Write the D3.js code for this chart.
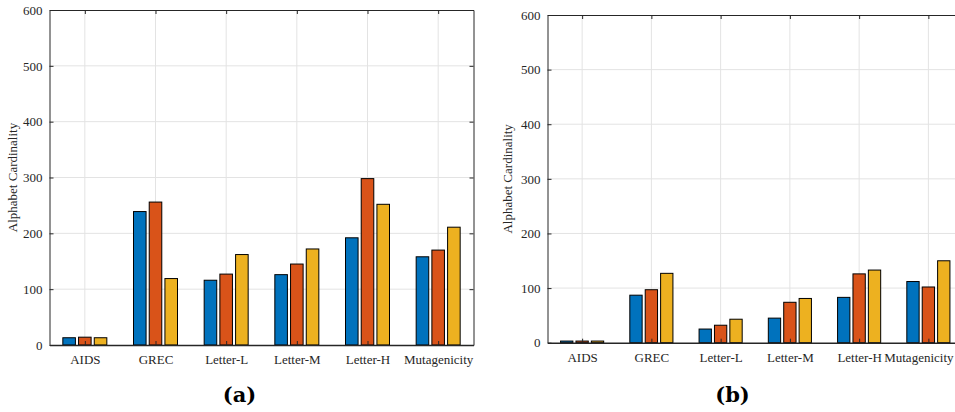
<!DOCTYPE html>
<html>
<head>
<meta charset="utf-8">
<script src="https://cdn.jsdelivr.net/npm/d3@7"></script>
<style>
  html, body { margin: 0; padding: 0; background: #fff; }
  svg { display: block; }
  svg text.serif { font-family: "Liberation Serif", "Times New Roman", Times, serif; }
</style>
</head>
<body>
<svg id="chart" width="955" height="412"></svg>
<script>
// Datasets on the x axis
const categories = ["AIDS", "GREC", "Letter-L", "Letter-M", "Letter-H", "Mutagenicity"];
const yTicks = [0, 100, 200, 300, 400, 500, 600];

// Panel (a): three series per dataset
const seriesA1 = [13, 239, 116, 126, 192, 158];
const seriesA2 = [14, 256, 127, 145, 298, 170];
const seriesA3 = [13, 119, 162, 172, 252, 211];

// Panel (b): three series per dataset
const seriesB1 = [3, 87, 25, 45, 83, 112];
const seriesB2 = [3, 97, 32, 74, 126, 102];
const seriesB3 = [3, 127, 43, 81, 133, 150];

const colors = ["#0072BD", "#D95319", "#EDB120"];
const axisColor = "#262626";
const gridColor = "#e3e3e3";
const serif = "Liberation Serif";
const svgWidth = 955;

const svg = d3.select("#chart");

function drawPanel(opts) {
  const { left, right, top, bottom, series, caption, captionX, labelX } = opts;
  const g = svg.append("g");

  // Positions 1..6 with half a slot of padding either side
  const x = d3.scaleLinear().domain([0.5, categories.length + 0.5]).range([left, right]);
  const y = d3.scaleLinear().domain([0, 600]).range([bottom, top]);
  const slot = x(1) - x(0);
  const groupW = 0.667 * slot;
  const sub = d3.scaleBand().domain([0, 1, 2]).range([-groupW / 2, groupW / 2]).paddingInner(0.2).paddingOuter(0.1);

  // Grid
  g.append("g").selectAll("line").data(yTicks.slice(1, -1)).join("line")
    .attr("x1", left).attr("x2", right)
    .attr("y1", d => y(d)).attr("y2", d => y(d))
    .attr("stroke", gridColor).attr("stroke-width", 1);
  g.append("g").selectAll("line").data(categories).join("line")
    .attr("x1", (d, i) => x(i + 1)).attr("x2", (d, i) => x(i + 1))
    .attr("y1", top).attr("y2", bottom)
    .attr("stroke", gridColor).attr("stroke-width", 1);

  // Bars
  series.forEach((vals, s) => {
    g.append("g").selectAll("rect").data(vals).join("rect")
      .attr("x", (d, i) => x(i + 1) + sub(s))
      .attr("width", sub.bandwidth())
      .attr("y", d => y(d))
      .attr("height", d => y(0) - y(d))
      .attr("fill", colors[s])
      .attr("stroke", "#000")
      .attr("stroke-width", 1);
  });

  // Axes with inward ticks
  const xAxis = d3.axisBottom(x).tickValues(categories.map((c, i) => i + 1))
    .tickFormat((d) => categories[d - 1]).tickSizeInner(-4).tickSizeOuter(0).tickPadding(10);
  const yAxis = d3.axisLeft(y).tickValues(yTicks).tickSizeInner(-4).tickSizeOuter(0).tickPadding(7);
  const xTop = d3.axisTop(x).tickValues(categories.map((c, i) => i + 1))
    .tickFormat("").tickSizeInner(-4).tickSizeOuter(0);
  const yRight = d3.axisRight(y).tickValues(yTicks).tickFormat("").tickSizeInner(-4).tickSizeOuter(0);

  const styleAxis = sel => {
    sel.attr("font-family", serif).attr("font-size", 13);
    sel.selectAll("path").attr("stroke", axisColor).attr("stroke-width", 1);
    sel.selectAll("line").attr("stroke", axisColor);
    sel.selectAll("text").attr("class", "serif").attr("fill", "#262626");
  };
  g.append("g").attr("transform", `translate(0,${top})`).call(xTop).call(styleAxis);
  g.append("g").attr("transform", `translate(${right},0)`).call(yRight).call(styleAxis);
  const xg = g.append("g").attr("transform", `translate(0,${bottom})`).call(xAxis).call(styleAxis);
  xg.select("path").attr("stroke-width", 1.6);
  g.append("g").attr("transform", `translate(${left},0)`).call(yAxis).call(styleAxis);

  // Keep category labels inside the page width
  xg.selectAll(".tick text").each(function () {
    const box = this.getBBox();
    const tick = this.parentNode.transform.baseVal.consolidate().matrix.e;
    const overflow = tick + box.x + box.width - (svgWidth - 1);
    if (overflow > 0) d3.select(this).attr("dx", -overflow);
  });

  // Axis title
  g.append("text")
    .attr("class", "serif")
    .attr("transform", `translate(${labelX},${(top + bottom) / 2}) rotate(-90)`)
    .attr("text-anchor", "middle")
    .attr("font-size", 13).attr("fill", "#262626")
    .text("Alphabet Cardinality");

  // Panel caption
  g.append("text")
    .attr("x", captionX).attr("y", 402)
    .attr("text-anchor", "middle")
    .attr("font-family", "DejaVu Serif").attr("font-weight", "bold").attr("font-size", 21)
    .attr("fill", "#000")
    .text(caption);
}

drawPanel({
  left: 49.5, right: 473.5, top: 10, bottom: 345,
  series: [seriesA1, seriesA2, seriesA3],
  caption: "(a)", captionX: 239.5, labelX: 17
});

drawPanel({
  left: 547.5, right: 963, top: 15, bottom: 342.7,
  series: [seriesB1, seriesB2, seriesB3],
  caption: "(b)", captionX: 732.5, labelX: 512
});
</script>
</body>
</html>
